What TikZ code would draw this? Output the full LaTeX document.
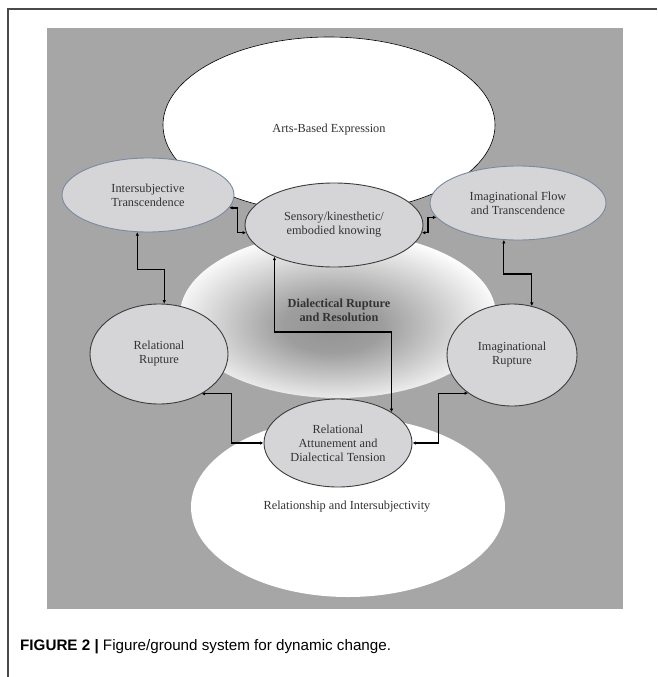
\documentclass[tikz,border=0pt]{standalone}
\usepackage{fontspec}
\setmainfont{Liberation Serif}
\newfontfamily\captionfont{Liberation Sans}
\usetikzlibrary{shapes.geometric,arrows.meta}

\definecolor{groundgray}{HTML}{A6A6A6}
\definecolor{phasefill}{HTML}{D5D5D7}
\definecolor{phaseedge}{HTML}{3C3C3C}
\definecolor{flowedge}{HTML}{7A8AA0}
\definecolor{textgray}{HTML}{333333}
\definecolor{framegray}{HTML}{4A4A4A}
\definecolor{centregray}{HTML}{939393}

\pgfdeclareradialshading{rupturefade}{\pgfpoint{-1bp}{-4bp}}{color(0bp)=(centregray); color(8bp)=(centregray!90!white); color(27bp)=(white); color(50bp)=(white)}

\tikzset{
  phase/.style={ellipse, draw=phaseedge, fill=phasefill, line width=0.9pt, inner sep=0pt,
    align=center, text=textgray, font=\fontsize{12.3}{14}\selectfont},
  fieldlabel/.style={text=textgray, align=center, font=\fontsize{12.3}{14}\selectfont},
  link/.style={line width=1.3pt, {Latex[length=3.5pt,width=3.5pt]}-{Latex[length=3.5pt,width=3.5pt]}},
}

\begin{document}
\begin{tikzpicture}[x=1pt,y=-1pt]
	\useasboundingbox (0,0) rectangle (657,677);
	% marco y fondo ------------------------------------------------------------
	\draw[framegray, line width=1.4pt] (8,677) -- (8,9) -- (657,9);
	\fill[groundgray] (47,28) rectangle (623,609);

	% campos de figura ---------------------------------------------------------
	\draw[fill=white, line width=0.6pt] (329,125) ellipse [x radius=166, y radius=88]; % expresion
	\fill[white] (348,507) ellipse [x radius=157, y radius=90]; % relacion
	\shade[shading=rupturefade] (338,315) ellipse [x radius=158, y radius=83]; % ruptura

	\node[fieldlabel] (artslabel) at (329,130) {Arts-Based Expression};
	\node[fieldlabel, font=\fontsize{12.3}{14}\selectfont\bfseries] (dialabel) at (339,310) {Dialectical Rupture\\and Resolution};
	\node[fieldlabel] (rellabel) at (347,507) {Relationship and Intersubjectivity};

	% fases --------------------------------------------------------------------
	\node[phase, draw=flowedge, minimum width=172pt, minimum height=74pt] (inter) at (148,195) {Intersubjective\\Transcendence};
	\node[phase, minimum width=178pt, minimum height=84pt] (sens) at (334,225) {Sensory/kinesthetic/\\embodied knowing};
	\node[phase, draw=flowedge, minimum width=176pt, minimum height=74pt] (flow) at (518,203) {Imaginational Flow\\and Transcendence};
	\node[phase, minimum width=138pt, minimum height=100pt] (relrup) at (159,354) {Relational\\Rupture};
	\node[phase, minimum width=130pt, minimum height=102pt] (imagrup) at (512,355) {Imaginational\\Rupture};
	\node[phase, minimum width=148pt, minimum height=88pt] (attune) at (338,443) {Relational\\Attunement and\\Dialectical Tension};

	% conectores ---------------------------------------------------------------
	\draw[link] (inter.254) -- ++(0,37) -| (relrup.84);
	\draw[link] (inter.-9) -- ++(8,0) |- (sens.185);
	\draw[link] (sens.-5) -- ++(6,0) |- (flow.190);
	\draw[link] (flow.249) -- ++(0,34) -| (imagrup.68);
	\draw[link] (relrup.-43) -- ++(30,0) |- (attune.west);
	\draw[link] (attune.east) -- ++(26,0) |- (imagrup.221);
	\draw[link] (attune.30) |- (sens.208 |- 0,332) -- (sens.208);

	% pie de figura ------------------------------------------------------------
	\node[anchor=base west, inner sep=0pt, font=\captionfont\fontsize{15.2}{17}\selectfont] (caption) at (20,650)
		{\textbf{FIGURE 2 |} Figure/ground system for dynamic change.};
\end{tikzpicture}
\end{document}
